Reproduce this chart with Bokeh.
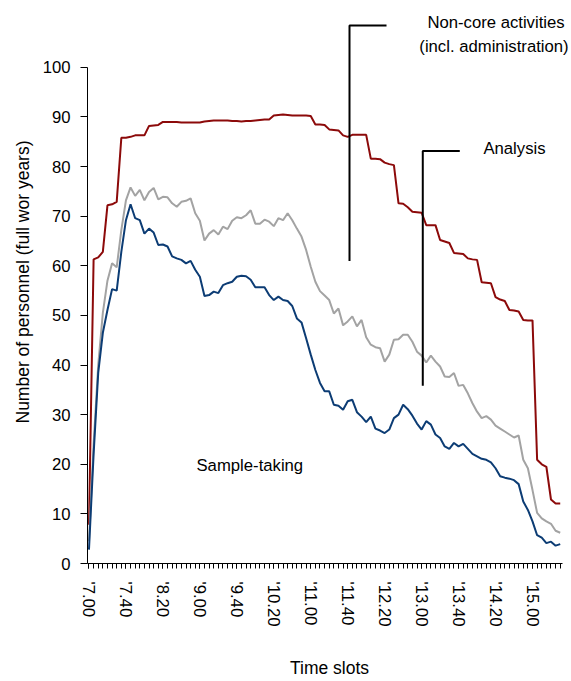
from bokeh.plotting import figure
from bokeh.models import Range1d, FixedTicker, Label
from bokeh.embed import file_html
from bokeh.resources import INLINE

# ---- data ----
tick_slots = [0, 8, 16, 24, 32, 40, 48, 56, 64, 72, 80, 88, 96]
tick_labels = ["'7.00", "'7.40", "'8.20", "'9.00", "'9.40", "'10.20", "'11.00",
               "'11.40", "'12.20", "'13.00", "'13.40", "'14.20", "'15.00"]

non_core_total = [7.8, 61.3, 61.7, 62.8, 72.2, 72.4, 72.9, 85.8, 85.8, 86.0,
                  86.3, 86.3, 86.3, 88.2, 88.3, 88.4, 89.0, 89.0, 89.0, 89.0,
                  88.9, 88.9, 88.9, 88.9, 88.9, 89.1, 89.2, 89.3, 89.3, 89.3,
                  89.3, 89.2, 89.2, 89.1, 89.2, 89.2, 89.3, 89.4, 89.5, 89.5,
                  90.3, 90.4, 90.5, 90.4, 90.3, 90.3, 90.3, 90.3, 90.2, 88.5,
                  88.5, 88.4, 87.5, 87.4, 87.3, 86.3, 86.0, 86.4, 86.4, 86.4,
                  86.4, 81.6, 81.6, 81.5, 80.8, 80.5, 80.3, 72.6, 72.5, 71.8,
                  70.9, 70.8, 70.7, 68.2, 68.2, 68.2, 65.2, 64.9, 64.6, 62.6,
                  62.5, 62.4, 61.5, 61.3, 61.2, 56.7, 56.6, 56.5, 53.7, 53.2,
                  52.9, 51.1, 51.0, 50.8, 49.1, 49.0, 49.0, 20.9, 20.0, 19.5,
                  12.9, 12.1, 12.1]

analysis_total = [4.5, 24.0, 40.0, 50.5, 57.0, 60.5, 59.7, 67.2, 73.2, 75.8,
                  74.1, 75.3, 73.2, 74.9, 75.7, 73.4, 73.9, 73.8, 72.6, 71.9,
                  72.9, 73.1, 73.6, 70.6, 69.1, 65.1, 66.5, 67.2, 66.3, 67.9,
                  67.4, 69.1, 69.8, 69.6, 70.2, 71.2, 68.5, 68.5, 69.3, 68.9,
                  68.0, 69.6, 69.2, 70.6, 69.2, 67.5, 65.9, 63.2, 59.8, 56.8,
                  54.9, 54.0, 53.1, 50.4, 51.4, 48.0, 48.8, 49.8, 47.8, 49.1,
                  45.6, 44.1, 43.6, 43.4, 40.7, 42.1, 45.1, 45.2, 46.1, 46.1,
                  44.7, 42.7, 41.9, 40.5, 41.9, 40.7, 39.7, 37.7, 37.6, 38.4,
                  35.8, 36.0, 34.3, 32.3, 30.6, 29.3, 29.7, 29.0, 27.8, 27.2,
                  26.6, 26.0, 25.4, 25.8, 20.9, 19.2, 14.8, 10.2, 9.1, 8.5,
                  8.0, 6.6, 6.2]

sample_taking = [2.8, 22.0, 38.4, 46.5, 51.1, 55.3, 55.0, 62.8, 69.2, 72.4,
                 69.6, 69.2, 66.5, 67.5, 66.7, 64.2, 64.3, 63.9, 61.9, 61.5,
                 61.2, 60.5, 61.0, 59.2, 57.8, 53.9, 54.1, 54.8, 54.5, 56.1,
                 56.5, 56.8, 57.8, 58.0, 57.9, 57.2, 55.7, 55.7, 55.7, 54.1,
                 53.1, 53.8, 53.1, 52.9, 51.9, 49.4, 48.6, 45.4, 42.1, 39.0,
                 36.4, 34.7, 34.7, 32.0, 31.8, 31.0, 32.7, 33.0, 30.5, 29.6,
                 28.5, 29.6, 27.2, 26.8, 26.3, 27.0, 29.3, 30.0, 32.0, 31.1,
                 29.8, 28.2, 27.0, 28.7, 28.0, 26.0, 25.3, 23.6, 23.1, 24.3,
                 23.6, 24.1, 23.1, 22.1, 21.6, 21.1, 20.9, 20.4, 19.2, 17.6,
                 17.3, 17.1, 16.8, 16.0, 12.5, 10.8, 8.5, 5.7, 5.2, 4.1,
                 4.4, 3.6, 3.9]

slots = list(range(len(sample_taking)))

FONT = "Liberation Sans"
FS = "16.7px"

p = figure(width=571, height=681, output_backend="svg", toolbar_location=None,
           x_range=Range1d(-0.32, 104.44), y_range=Range1d(0, 113.48),
           min_border_left=87, min_border_right=0, min_border_top=0,
           min_border_bottom=117, background_fill_color="white",
           border_fill_color="white")
p.outline_line_color = None
p.xgrid.visible = False
p.ygrid.visible = False

p.line(slots, non_core_total, line_color="#8c0a0a", line_width=2)
p.line(slots, analysis_total, line_color="#a3a3a3", line_width=2)
p.line(slots, sample_taking, line_color="#0c3c74", line_width=2)

# callout lines
p.line([64.4, 56.39, 56.39], [108.45, 108.45, 60.97], line_color="black", line_width=2)
p.line([80.26, 72.25, 72.25], [83.16, 83.16, 35.81], line_color="black", line_width=2)

def add_label(x, y, text, align="center"):
    p.add_layout(Label(x=x, y=y, text=text, text_font=FONT, text_font_size=FS,
                       text_align=align, text_baseline="alphabetic",
                       text_color="black"))

add_label(88.1, 109.1, "Non-core activities")
add_label(87.66, 104.2, "(incl. administration)")
add_label(92.1, 83.7, "Analysis")
add_label(23.27, 19.7, "Sample-taking", align="left")

# x axis
xa = p.xaxis[0]
xa.ticker = FixedTicker(ticks=tick_slots, minor_ticks=slots)
xa.major_label_overrides = {s: lab for s, lab in zip(tick_slots, tick_labels)}
xa.major_label_orientation = "vertical"
xa.bounds = (-0.32, 102.6)
xa.major_tick_out = 5
xa.major_tick_in = 0
xa.minor_tick_out = 5
xa.minor_tick_in = 0
xa.major_label_standoff = 13
xa.axis_label = "Time slots"
xa.axis_label_standoff = 29

# y axis
ya = p.yaxis[0]
ya.ticker = FixedTicker(ticks=list(range(0, 101, 10)))
ya.bounds = (0, 100)
ya.major_tick_out = 7
ya.major_tick_in = 0
ya.minor_tick_out = 0
ya.minor_tick_in = 0
ya.major_label_standoff = 10
ya.axis_label = "Number of personnel (full wor years)"
ya.axis_label_standoff = 7

for ax in (xa, ya):
    ax.axis_line_color = "black"
    ax.major_tick_line_color = "black"
    ax.minor_tick_line_color = "black"
    ax.major_label_text_font = FONT
    ax.major_label_text_font_size = FS
    ax.major_label_text_color = "black"
    ax.axis_label_text_font = FONT
    ax.axis_label_text_font_size = "17.5px"
    ax.axis_label_text_font_style = "normal"
    ax.axis_label_text_color = "black"

open("out.html", "w").write(file_html(p, INLINE))
